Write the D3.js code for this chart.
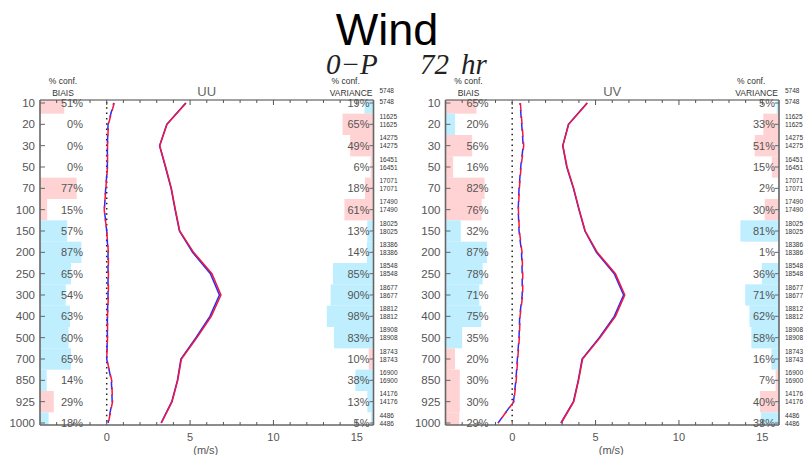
<!DOCTYPE html>
<html><head><meta charset="utf-8">
<script src="https://cdn.jsdelivr.net/npm/d3@7"></script>
<style>body{margin:0;background:#fff}svg{display:block}</style>
</head><body>
<svg id="c" width="804" height="455"></svg>
<script>
const levels = [10,20,30,50,70,100,150,200,250,300,400,500,700,850,925,1000];
const counts = [5748,11625,14275,16451,17071,17490,18025,18386,18548,18677,18812,18908,18743,16900,14176,4486];
const xTicks = [0,5,10,15];

// UU panel
const uuStdRed  = [4.76,3.62,3.18,3.54,3.88,4.12,4.38,5.21,6.31,6.85,6.27,5.41,4.48,4.26,3.92,3.28];
const uuStdBlue = [4.74,3.60,3.17,3.52,3.86,4.10,4.36,5.15,6.22,6.76,6.19,5.35,4.45,4.24,3.90,3.26];
const uuBiasRed  = [0.45,0.10,0.05,0.05,-0.05,-0.15,0.00,0.10,0.10,0.10,0.05,0.05,0.00,0.30,0.35,0.10];
const uuBiasBlue = [0.42,0.08,0.04,0.04,-0.06,-0.14,0.00,0.08,0.08,0.08,0.04,0.04,0.00,0.28,0.33,0.08];
const uuBiasConf = [51,0,0,0,77,15,57,87,65,54,63,60,65,14,29,18];
const uuBiasSide = ["+","+","+","+","+","+","-","-","-","-","-","-","-","-","+","-"];
const uuVarConf  = [19,65,49,6,18,61,13,14,85,90,98,83,10,38,13,5];
const uuVarSide  = ["-","+","+","+","+","+","-","-","-","-","-","-","+","-","-","-"];

// UV panel
const uvStdRed  = [4.51,3.39,3.04,3.29,3.69,4.02,4.38,5.10,6.19,6.75,6.19,5.27,4.22,3.98,3.69,2.94];
const uvStdBlue = [4.49,3.37,3.03,3.27,3.67,4.00,4.36,5.05,6.12,6.68,6.12,5.22,4.19,3.96,3.67,2.92];
const uvBiasRed  = [0.49,0.59,0.69,0.53,0.43,0.37,0.43,0.59,0.63,0.63,0.47,0.43,0.33,0.24,0.10,-0.85];
const uvBiasBlue = [0.47,0.57,0.66,0.51,0.41,0.36,0.41,0.56,0.60,0.60,0.45,0.41,0.31,0.22,0.08,-0.85];
const uvBiasConf = [65,20,56,16,82,76,32,87,78,71,75,35,20,30,30,29];
const uvBiasSide = ["+","-","+","+","+","+","-","-","-","-","-","-","+","+","+","+"];
const uvVarConf  = [5,33,51,15,2,30,81,1,36,71,62,58,16,7,40,38];
const uvVarSide  = ["-","+","+","+","+","+","-","-","-","-","-","-","-","+","+","-"];

const subtitleParts = ["0\u2212P","72","hr"];

const PINK = "#ffd3d3", CYAN = "#bfeeff", RED = "#f0183c", BLUE = "#2a2aff", GREY = "#555";
const svg = d3.select("#c");
svg.append("rect").attr("width",804).attr("height",455).attr("fill","#fff");

svg.append("text").attr("x",387).attr("y",45).attr("text-anchor","middle")
  .attr("font-family","Liberation Sans, Arial, sans-serif").attr("font-size",45).attr("fill","#000").text("Wind");
const sub = svg.append("text").attr("y",74)
  .attr("font-family","Liberation Serif, DejaVu Serif, serif").attr("font-style","italic").attr("font-size",29)
  .attr("fill","#222");
[326,420,461].forEach((xx,i)=>sub.append("tspan").attr("x",xx).text(subtitleParts[i]));

const y = d3.scalePoint().domain(levels).range([103,423]);
const step = y.step();
const yTop = 100, yBot = 425;

const panels = [
  {name:"UU", x0:40, x1:373.5, stdR:uuStdRed, stdB:uuStdBlue, biasR:uuBiasRed, biasB:uuBiasBlue,
   bc:uuBiasConf, bs:uuBiasSide, vc:uuVarConf, vs:uuVarSide},
  {name:"UV", x0:445.5, x1:779, stdR:uvStdRed, stdB:uvStdBlue, biasR:uvBiasRed, biasB:uvBiasBlue,
   bc:uvBiasConf, bs:uvBiasSide, vc:uvVarConf, vs:uvVarSide}
];

panels.forEach((p,pi)=>{
  const g = svg.append("g");
  const x = d3.scaleLinear().domain([-4,16]).range([p.x0,p.x1]);
  const cw = d3.scaleLinear().domain([0,100]).range([0,(p.x1-p.x0)/7]);
  const y0 = d=>Math.max(yTop, y(d)-step/2), y1 = d=>Math.min(yBot, y(d)+step/2);
  const idx = levels.map((l,i)=>i);
  const clipId = "clip"+pi;
  svg.append("clipPath").attr("id",clipId).append("rect")
    .attr("x",p.x0).attr("y",yTop).attr("width",p.x1-p.x0).attr("height",yBot-yTop);

  g.append("g").selectAll("rect").data(idx).join("rect")
    .attr("x",p.x0).attr("y",i=>y0(levels[i])).attr("height",i=>y1(levels[i])-y0(levels[i]))
    .attr("width",i=>cw(p.bc[i])).attr("fill",i=>p.bs[i]==="+"?PINK:CYAN);
  g.append("g").selectAll("rect").data(idx).join("rect")
    .attr("x",i=>p.x1-cw(p.vc[i])).attr("y",i=>y0(levels[i])).attr("height",i=>y1(levels[i])-y0(levels[i]))
    .attr("width",i=>cw(p.vc[i])).attr("fill",i=>p.vs[i]==="+"?PINK:CYAN);

  g.append("line").attr("x1",x(0)).attr("x2",x(0)).attr("y1",yTop+2).attr("y2",yBot)
    .attr("stroke","#222").attr("stroke-width",1.5).attr("stroke-dasharray","1.5,3.8");

  const line = arr=>d3.line().x(d=>x(d)).y((d,i)=>y(levels[i]))(arr);
  const lg = g.append("g").attr("clip-path",`url(#${clipId})`);
  lg.append("path").attr("d",line(p.stdB)).attr("fill","none").attr("stroke",BLUE).attr("stroke-width",1.5);
  lg.append("path").attr("d",line(p.stdR)).attr("fill","none").attr("stroke",RED).attr("stroke-width",1.5);
  lg.append("path").attr("d",line(p.biasB)).attr("fill","none").attr("stroke",BLUE).attr("stroke-width",1.5)
    .attr("stroke-dasharray","8,5").attr("stroke-dashoffset",6);
  lg.append("path").attr("d",line(p.biasR)).attr("fill","none").attr("stroke",RED).attr("stroke-width",1.5)
    .attr("stroke-dasharray","8,5");

  g.append("line").attr("x1",p.x0).attr("x2",p.x1).attr("y1",yTop).attr("y2",yTop).attr("stroke","#444").attr("stroke-width",1);
  g.append("line").attr("x1",p.x0).attr("x2",p.x1).attr("y1",yBot).attr("y2",yBot).attr("stroke","#666").attr("stroke-width",1.5);
  g.append("line").attr("x1",p.x0).attr("x2",p.x0).attr("y1",yTop).attr("y2",yBot).attr("stroke","#666").attr("stroke-width",1.6);
  g.append("line").attr("x1",p.x1).attr("x2",p.x1).attr("y1",yTop).attr("y2",yBot).attr("stroke","#666").attr("stroke-width",1.6);

  const units = d3.range(-3,16);
  units.forEach(u=>{
    const len = (u%5===0)?5:3;
    g.append("line").attr("x1",x(u)).attr("x2",x(u)).attr("y1",yBot).attr("y2",yBot-len).attr("stroke","#555");
    g.append("line").attr("x1",x(u)).attr("x2",x(u)).attr("y1",yTop).attr("y2",yTop+len).attr("stroke","#555");
  });
  levels.forEach(l=>{
    g.append("line").attr("x1",p.x0).attr("x2",p.x0+5).attr("y1",y(l)).attr("y2",y(l)).attr("stroke","#666");
    g.append("line").attr("x1",p.x1-4).attr("x2",p.x1).attr("y1",y(l)).attr("y2",y(l)).attr("stroke","#666");
  });

  const sans = "Liberation Sans, Arial, sans-serif";
  g.append("g").selectAll("text").data(levels).join("text")
    .attr("x",p.x0-5).attr("y",l=>y(l)+4).attr("text-anchor","end")
    .attr("font-family",sans).attr("font-size",11.5).attr("fill",GREY).text(l=>l);
  g.append("g").selectAll("text").data(xTicks).join("text")
    .attr("x",t=>x(t)).attr("y",441).attr("text-anchor","middle")
    .attr("font-family",sans).attr("font-size",11).attr("fill",GREY).text(t=>t);
  g.append("text").attr("x",(p.x0+p.x1)/2-1).attr("y",454).attr("text-anchor","middle")
    .attr("font-family",sans).attr("font-size",11).attr("fill",GREY).text("(m/s)");

  g.append("g").selectAll("text").data(idx).join("text")
    .attr("x",p.x0+43).attr("y",i=>y(levels[i])+4).attr("text-anchor","end")
    .attr("font-family",sans).attr("font-size",11).attr("fill",GREY).text(i=>p.bc[i]+"%");
  g.append("g").selectAll("text").data(idx).join("text")
    .attr("x",p.x1-4).attr("y",i=>y(levels[i])+4).attr("text-anchor","end")
    .attr("font-family",sans).attr("font-size",11).attr("fill",GREY).text(i=>p.vc[i]+"%");

  idx.forEach(i=>{
    const base = i===0 ? [-13,-2] : [-8,0];
    base.forEach(dy=>{
      g.append("text").attr("x",p.x1+6).attr("y",y(levels[i])+dy+2.5)
        .attr("font-family",sans).attr("font-size",6.5).attr("fill","#333").text(counts[i]);
    });
  });

  const cx = p.x0+23;
  g.append("text").attr("x",cx).attr("y",84).attr("text-anchor","middle").attr("font-family",sans)
    .attr("font-size",8.5).attr("fill","#333").text("% conf.");
  g.append("text").attr("x",cx).attr("y",96).attr("text-anchor","middle").attr("font-family",sans)
    .attr("font-size",8.5).attr("fill","#333").text("BIAIS");
  g.append("text").attr("x",p.x1-42).attr("y",84).attr("font-family",sans)
    .attr("font-size",8.5).attr("fill","#333").text("% conf.");
  g.append("text").attr("x",p.x1-1).attr("y",96).attr("text-anchor","end").attr("font-family",sans)
    .attr("font-size",8.5).attr("fill","#333").text("VARIANCE");
  g.append("text").attr("x",(p.x0+p.x1)/2).attr("y",96).attr("text-anchor","middle").attr("font-family",sans)
    .attr("font-size",13).attr("fill","#666").text(p.name);
});
</script>
</body></html>
